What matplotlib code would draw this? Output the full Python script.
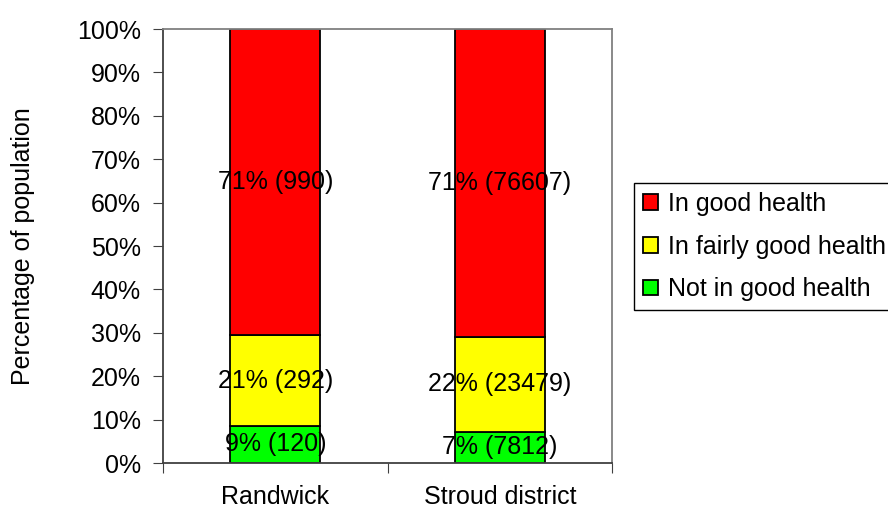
import matplotlib.pyplot as plt
from matplotlib.ticker import PercentFormatter
import numpy as np

plt.rcParams['font.family'] = ['Liberation Sans', 'DejaVu Sans']

# Données : nombre de personnes par état de santé
zones = ['Randwick', 'Stroud district']
not_good = [120, 7812]
fairly_good = [292, 23479]
good = [990, 76607]

series_labels = ['Not in good health', 'In fairly good health', 'In good health']
series_colors = ['#00ff00', '#ffff00', '#ff0000']

counts = np.array([not_good, fairly_good, good], dtype=float)
pcts = counts / counts.sum(axis=0) * 100

fs = 18

fig = plt.figure(figsize=(8.88, 5.11), dpi=100)
ax = fig.add_axes([163 / 888, 48 / 511, 449 / 888, 434 / 511])

x = np.arange(len(zones))
bottom = np.zeros(len(zones))
handles = []
for i in range(3):
    bars = ax.bar(x, pcts[i], 0.4, bottom=bottom, color=series_colors[i],
                  edgecolor='black', linewidth=1.3, label=series_labels[i], zorder=2)
    handles.append(bars)
    for j in range(len(zones)):
        ax.text(x[j], bottom[j] + pcts[i][j] / 2,
                f"{pcts[i][j]:.0f}% ({int(counts[i][j])})",
                ha='center', va='center', fontsize=fs, zorder=3)
    bottom += pcts[i]

ax.set_xlim(-0.5, 1.5)
ax.set_ylim(0, 100)
ax.set_yticks(np.arange(0, 101, 10))
ax.yaxis.set_major_formatter(PercentFormatter(decimals=0))
ax.set_xticks([-0.5, 0.5, 1.5])
ax.set_xticklabels([])
ax.set_xticks(x, minor=True)
ax.set_xticklabels(zones, minor=True)
ax.tick_params(axis='x', which='minor', length=0, pad=16, labelsize=fs)
ax.tick_params(axis='x', which='major', length=7, direction='out', color='#404040')
ax.tick_params(axis='y', length=7, direction='out', labelsize=fs, color='#404040', pad=9)

ax.set_ylabel("Percentage of population", fontsize=fs, labelpad=30)

for side in ['left', 'bottom']:
    ax.spines[side].set_color('#404040')
    ax.spines[side].set_linewidth(1.3)
for side in ['top', 'right']:
    ax.spines[side].set_color('#808080')
    ax.spines[side].set_linewidth(1.3)

leg = fig.legend(handles[::-1], series_labels[::-1], loc='upper left',
                 bbox_to_anchor=(634 / 888, 1 - 183 / 511), fontsize=fs,
                 fancybox=False, framealpha=1, edgecolor='black',
                 handlelength=0.6, handleheight=0.6, handletextpad=0.4,
                 labelspacing=0.75, borderpad=0.35, borderaxespad=0)
leg.get_frame().set_linewidth(1.0)

plt.savefig("out.png", dpi=100)
plt.close()
